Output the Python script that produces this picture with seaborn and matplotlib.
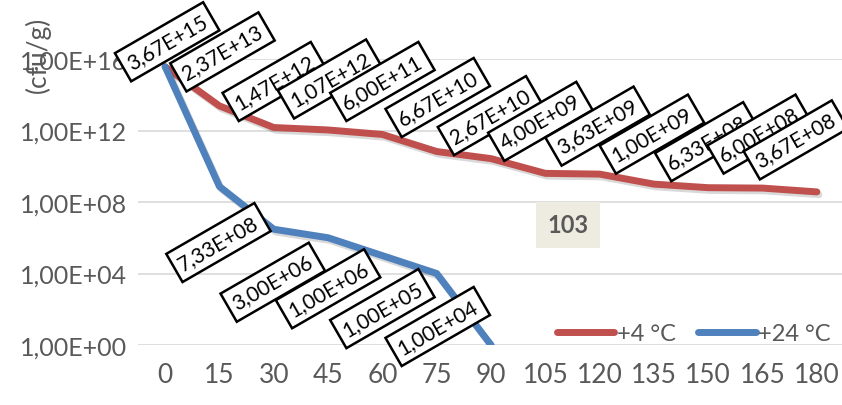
import matplotlib
matplotlib.use("Agg")
import matplotlib.pyplot as plt
import matplotlib.patheffects as pe
from matplotlib.ticker import FixedLocator, NullLocator
import numpy as np
import pandas as pd
import seaborn as sns

# Storage time (min) and microbial counts (cfu/g)
time_min = [0, 15, 30, 45, 60, 75, 90, 105, 120, 135, 150, 165, 180]
count_4c = [3.67e15, 2.37e13, 1.47e12, 1.07e12, 6.00e11, 6.67e10, 2.67e10,
            4.00e09, 3.63e09, 1.00e09, 6.33e08, 6.00e08, 3.67e08]
time_24c = [0, 15, 30, 45, 60, 75, 90]
count_24c = [3.67e15, 7.33e08, 3.00e06, 1.00e06, 1.00e05, 1.00e04, 1.00e00]
series_names = ["+4 °C", "+24 °C"]
y_ticks = [1e0, 1e4, 1e8, 1e12, 1e16]
y_tick_labels = ["1,00E+00", "1,00E+04", "1,00E+08", "1,00E+12", "1,00E+16"]
y_title = "(cfu/g)"
note_text = "103"

# Label placement (pixel offsets from each point)
red_label_dx = [2, 3, 1, 2, 0, 1, -1, -5, -2, -2, -1, -3, -21]
red_label_dy = [25, 54, 46, 51, 53, 54, 43, 52, 48, 50, 46, 54, 52]
blue_label_dx = [-1, -1, 0, 0, 1]
blue_label_dy = [-56, -53, -51, -53, -53]

RED = "#C0504D"
BLUE = "#4F81BD"
GREY = "#595959"

df = pd.concat([
    pd.DataFrame({"time": time_min, "count": count_4c, "series": series_names[0]}),
    pd.DataFrame({"time": time_24c, "count": count_24c, "series": series_names[1]}),
])

sns.set_theme(style="white")
plt.rcParams["font.family"] = ["Lato", "DejaVu Sans"]

fig = plt.figure(figsize=(8.42, 4.06), dpi=100)
ax = fig.add_axes([138 / 842, (406 - 346) / 406, (844 - 138) / 842, (346 - 60) / 406])

shadow = [pe.SimpleLineShadow(offset=(1.5, -2), alpha=0.15, shadow_color="black"), pe.Normal()]
sns.lineplot(data=df, x="time", y="count", hue="series",
             palette=[RED, BLUE], linewidth=5, ax=ax, legend=True,
             path_effects=shadow)
for ln in ax.get_lines():
    ln.set_solid_capstyle("round")
    ln.set_solid_joinstyle("round")

ax.set_yscale("log")
ax.set_ylim(1e0, 1e16)
ax.set_xlim(-7.5, 187.5)
ax.yaxis.set_major_locator(FixedLocator(y_ticks))
ax.yaxis.set_minor_locator(NullLocator())
ax.set_yticklabels(y_tick_labels)
ax.set_xticks(time_min)
ax.set_xticklabels([str(t) for t in time_min])
ax.tick_params(axis="y", labelsize=18, colors=GREY, length=0, pad=8)
ax.tick_params(axis="x", labelsize=19, colors=GREY, length=0, pad=12)
ax.grid(axis="y", color="#D9D9D9", linewidth=1.2)
ax.set_axisbelow(True)
for s in ax.spines.values():
    s.set_visible(False)
ax.set_xlabel("")
ax.set_ylabel("")

# Axis title, overlapping the top tick label
fig.text(38 / 842, 1 - 55 / 406, y_title, rotation=90, ha="center", va="center",
         fontsize=19, color=GREY)

box = dict(boxstyle="square,pad=0.3", fc="white", ec="black", lw=1.8)


def fmt(v):
    return f"{v:.2E}".replace(".", ",")


# Data labels for +4 °C (the first one also serves the shared starting value)
for i, (t, v) in enumerate(zip(time_min, count_4c)):
    ax.annotate(fmt(v), (t, v), xytext=(red_label_dx[i], red_label_dy[i]),
                textcoords="offset pixels", ha="center", va="center",
                rotation=30, rotation_mode="anchor", fontsize=15,
                color="black", bbox=box, zorder=5 + i, annotation_clip=False)

# Data labels for +24 °C
for j, (t, v) in enumerate(zip(time_24c[1:6], count_24c[1:6])):
    ax.annotate(fmt(v), (t, v), xytext=(blue_label_dx[j], blue_label_dy[j]),
                textcoords="offset pixels", ha="center", va="center",
                rotation=30, rotation_mode="anchor", fontsize=15,
                color="black", bbox=box, zorder=5 + j, annotation_clip=False)

# Highlighted note
ax.text(0.609, 0.42, note_text, transform=ax.transAxes, ha="center", va="center",
        fontsize=17, fontweight="bold", color=GREY,
        bbox=dict(boxstyle="square,pad=0.5", fc="#EEECE1", ec="none"), zorder=20)

leg = ax.legend(loc="lower right", bbox_to_anchor=(0.995, -0.03), ncol=2, frameon=False,
                fontsize=17, handlelength=2.45, handletextpad=0.1, columnspacing=0.95,
                labelcolor=GREY, borderaxespad=0)
for h in leg.get_lines():
    h.set_linewidth(5)
    h.set_solid_capstyle("round")
    h.set_path_effects([])

fig.savefig("out.png", dpi=100)
